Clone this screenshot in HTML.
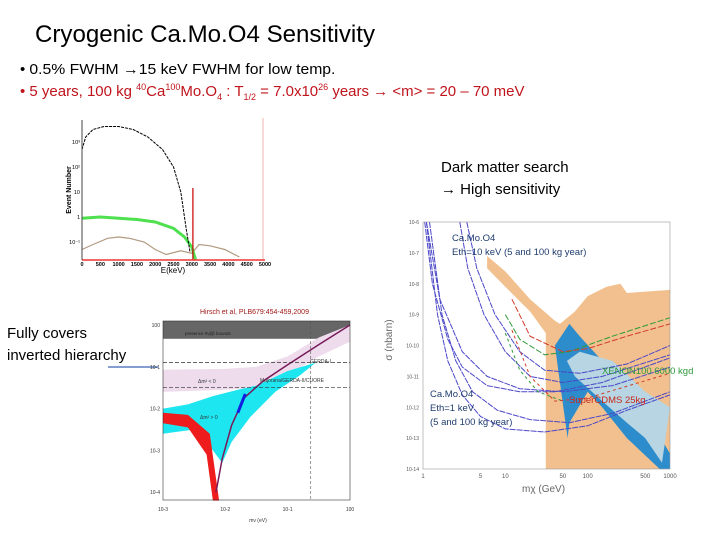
<!DOCTYPE html>
<html><head><meta charset="utf-8"><style>html,body{margin:0;padding:0;background:#fff}svg{display:block}text{font-family:"Liberation Sans",sans-serif}</style></head>
<body>
<svg id="s" width="720" height="540" viewBox="0 0 720 540" xmlns="http://www.w3.org/2000/svg">
<text x="35" y="42" font-size="24" textLength="340" lengthAdjust="spacingAndGlyphs" fill="#000">Cryogenic Ca.Mo.O4 Sensitivity</text>
<text x="20" y="74" font-size="15" fill="#000">• <tspan textLength="306" lengthAdjust="spacingAndGlyphs">0.5% FWHM  →15 keV FWHM for low temp.</tspan></text>
<text x="20" y="96" font-size="15" fill="#c0141c">• 5 years, 100 kg <tspan font-size="9" dy="-6">40</tspan><tspan dy="6">Ca</tspan><tspan font-size="9" dy="-6">100</tspan><tspan dy="6">Mo.O</tspan><tspan font-size="9" dy="4">4</tspan><tspan dy="-4"> : T</tspan><tspan font-size="9" dy="4">1/2</tspan><tspan dy="-4"> = 7.0x10</tspan><tspan font-size="9" dy="-6">26</tspan><tspan dy="6"> years → &lt;m&gt; = 20 – 70 meV</tspan></text>
<text x="441" y="172" font-size="15">Dark matter search</text>
<text x="441" y="194" font-size="15">→ High sensitivity</text>
<text x="7" y="338" font-size="15">Fully covers</text>
<text x="7" y="360" font-size="15">inverted hierarchy</text>
<line x1="108" y1="367" x2="158" y2="367" stroke="#5b7fc0" stroke-width="1.5"/>
<g id="p1"></g>
<g id="p2"></g>
<g id="p3"></g>
</svg>
<script>
// Spectrum chart data (E keV, log10 counts)
const specE=[0,100,300,600,1000,1400,1800,2200,2500,2700,2850,2950];
const specBB=[2.7,3.2,3.5,3.62,3.62,3.5,3.2,2.7,2.0,1.0,-0.5,-1.4];
const greenE=[0,500,1000,1500,2000,2500,2800,3000,3100];
const greenV=[-0.05,0,-0.05,-0.1,-0.2,-0.45,-0.8,-1.2,-1.7];
const brownE=[0,300,700,1000,1300,1700,2000,2300,2700,3000,3200,3500,3900,4300];
const brownV=[-1.3,-1.1,-0.85,-0.8,-0.85,-1.0,-1.3,-1.5,-1.35,-1.45,-1.1,-1.15,-1.3,-1.6];
const specTicks=[0,500,1000,1500,2000,2500,3000,3500,4000,4500,5000];
// DM chart data (GeV, log10 sigma nbarn)
const dmCurves=[
 [[1.1,-6],[1.5,-9],[2,-10.5],[3,-11.6],[5,-12.3],[10,-12.7],[30,-12.8],[100,-12.6],[300,-12.1],[1000,-11.6]],
 [[1.2,-6],[1.7,-9],[2.5,-10.5],[4,-11.5],[8,-12.1],[20,-12.4],[60,-12.5],[200,-12.2],[1000,-11.5]],
 [[1.05,-6],[1.3,-8],[2,-9.8],[3,-10.7],[6,-11.3],[15,-11.5],[40,-11.5],[150,-11.2],[1000,-10.4]],
 [[1.1,-6],[1.6,-8.5],[3,-10.2],[6,-11],[15,-11.4],[50,-11.5],[200,-11.3],[1000,-10.7]],
 [[2.8,-6],[3.5,-7.5],[5.5,-9],[10,-10.2],[20,-11],[50,-11.2],[150,-11],[1000,-10.3]],
 [[3.4,-6],[4.5,-7.5],[7.5,-9],[15,-10.2],[30,-10.8],[80,-10.9],[300,-10.6],[1000,-10.0]]];
const dmGreen=[[10,-9],[15,-9.8],[30,-10.3],[60,-10.2],[200,-9.7],[1000,-9.1]];
const dmRed=[[12,-8.5],[20,-9.7],[50,-10.2],[100,-10.1],[300,-9.7],[1000,-9.3]];
const dmGreen2=[[10,-9.6],[15,-10.8],[25,-11.5],[50,-11.8]];
const dmRed2=[[12,-9.5],[20,-11],[40,-11.8],[100,-11.7],[1000,-10.9]];
const tanReg=[[6,-7.1],[10,-7.6],[20,-8.5],[40,-9.2],[46,-9.3],[70,-8.9],[100,-8.4],[170,-8.1],[250,-8.0],[300,-8.3],[1000,-8.2],[1000,-14],[31,-14],[31,-9.6],[20,-8.9],[10,-8.1],[6,-7.5]];
const blueReg=[[40,-10],[60,-9.3],[80,-9.7],[150,-10.5],[300,-11.5],[600,-12.5],[1000,-13.5],[1000,-14],[750,-14],[300,-13],[150,-12],[100,-11.5],[60,-12.5],[57,-13],[45,-11]];
const lightReg=[[56,-10.5],[80,-10.2],[200,-10.5],[500,-11.5],[1000,-12],[800,-13.8],[500,-13],[300,-12.5],[150,-11.8],[70,-11]];
const dmXTicks=[1,5,10,50,100,500,1000];
const dmYTicks=[-6,-7,-8,-9,-10,-11,-12,-13,-14];
// neutrino chart data (log10 m eV, log10 mbb eV)
const pinkReg=[[-3,-1.07],[-2,-1.05],[-1.5,-1.0],[-1,-0.75],[-0.5,-0.3],[0,0],[0,-0.4],[-0.5,-0.75],[-1,-1.2],[-1.5,-1.5],[-2,-1.55],[-3,-1.6]];
const cyanReg=[[-3,-2.0],[-2.6,-1.9],[-2.2,-1.7],[-1.8,-1.55],[-1.5,-1.45],[-1,-1.1],[-0.55,-0.9],[-0.8,-1.2],[-1.2,-1.6],[-1.6,-2.2],[-1.9,-2.8],[-2.05,-3.3],[-2.2,-3.0],[-2.5,-2.5],[-3,-2.6]];
const redReg=[[-3,-2.1],[-2.6,-2.15],[-2.25,-2.6],[-2.1,-4.2],[-2.2,-4.2],[-2.3,-3.1],[-2.6,-2.45],[-3,-2.35]];
const nuLine=[[-2.15,-4],[-2.05,-3.2],[-1.9,-2.4],[-1.7,-1.75],[-1.4,-1.35],[-1,-0.95],[-0.5,-0.47],[0,0]];
const nuXTicks=[-3,-2,-1,0];const nuYTicks=[0,-1,-2,-3,-4];
const NS='http://www.w3.org/2000/svg';
function mk(p,t,a){const e=document.createElementNS(NS,t);for(const k in a)e.setAttribute(k,a[k]);p.appendChild(e);return e;}
function path(pts,fx,fy,close){return pts.map((p,i)=>(i?'L':'M')+fx(p[0]).toFixed(1)+' '+fy(p[1]).toFixed(1)).join('')+(close?'Z':'');}
// ---- plot 1
const g1=document.getElementById('p1');
const x1=v=>82+v/5000*183, y1=v=>Math.min(260,217-v*25);
let e;
e=mk(g1,'path',{d:path(brownE.map((x,i)=>[x,brownV[i]]),x1,y1),fill:'none',stroke:'#b29a80','stroke-width':1.2});


e=mk(g1,'path',{d:path(greenE.map((x,i)=>[x,greenV[i]]),x1,y1),fill:'none',stroke:'#4ee04e','stroke-width':3});


e=mk(g1,'path',{d:path(specE.map((x,i)=>[x,specBB[i]]),x1,y1),fill:'none',stroke:'#000','stroke-width':1,'stroke-dasharray':'3 1'});


e=mk(g1,'line',{x1:x1(3030),x2:x1(3030),y1:188,y2:260,stroke:'#c00','stroke-width':1.2});


mk(g1,'line',{x1:263,x2:263,y1:118,y2:260,stroke:'#f3b0b0','stroke-width':1});
mk(g1,'line',{x1:82,x2:265,y1:260,y2:260,stroke:'#e33','stroke-width':1.5});
mk(g1,'line',{x1:82,x2:82,y1:120,y2:260,stroke:'#444','stroke-width':1});
specTicks.forEach(t=>{e=mk(g1,'text',{x:x1(t),y:266,'font-size':5.5,'text-anchor':'middle','font-weight':'bold'});e.textContent=t;

});
e=mk(g1,'text',{x:173,y:273,'font-size':8,'text-anchor':'middle'});e.textContent='E(keV)';
e=mk(g1,'text',{x:71,y:190,'font-size':7,'font-weight':'bold',transform:'rotate(-90 71 190)','text-anchor':'middle'});e.textContent='Event Number';
[[3,'10³'],[2,'10²'],[1,'10'],[0,'1'],[-1,'10⁻¹']].forEach(t=>{e=mk(g1,'text',{x:80,y:y1(t[0])+2,'font-size':5.5,'text-anchor':'end'});e.textContent=t[1];});
// ---- plot 2
const g2=document.getElementById('p2');
const x2=m=>423+Math.log10(m)/3*247, y2=v=>222+(-6-v)/8*247;
e=mk(g2,'path',{d:path(tanReg,x2,y2,1),fill:'#f1c08e'});


e=mk(g2,'path',{d:path(blueReg,x2,y2,1),fill:'#2d8ccc'});


e=mk(g2,'path',{d:path(lightReg,x2,y2,1),fill:'#b7d5e2'});


dmCurves.forEach(c=>{e=mk(g2,'path',{d:path(c,x2,y2),fill:'none',stroke:'#4b47c8','stroke-width':1,'stroke-dasharray':'6 1'});

});
[[dmGreen,'#2e9a3a','6 2'],[dmRed,'#d23a2a','6 2'],[dmGreen2,'#2e9a3a','3 3'],[dmRed2,'#d23a2a','3 3']].forEach(c=>{e=mk(g2,'path',{d:path(c[0],x2,y2),fill:'none',stroke:c[1],'stroke-width':1,'stroke-dasharray':c[2]});

});
mk(g2,'rect',{x:423,y:222,width:247,height:247,fill:'none',stroke:'#999','stroke-width':0.6});
dmXTicks.forEach(t=>{e=mk(g2,'text',{x:x2(t),y:478,'font-size':6,'text-anchor':'middle',fill:'#555'});e.textContent=t;});
dmYTicks.forEach(t=>{e=mk(g2,'text',{x:419,y:y2(t)+2,'font-size':5,'text-anchor':'end',fill:'#555'});e.textContent='10'+t;});
e=mk(g2,'text',{x:522,y:492,'font-size':10,fill:'#666'});e.textContent='mχ (GeV)';
e=mk(g2,'text',{x:392,y:340,'font-size':10,fill:'#666',transform:'rotate(-90 392 340)','text-anchor':'middle'});e.textContent='σ (nbarn)';
[[452,241,'Ca.Mo.O4'],[452,255,'Eth=10 keV (5 and 100 kg year)'],[430,397,'Ca.Mo.O4'],[430,411,'Eth=1 keV'],[430,425,'(5 and 100 kg year)']].forEach(t=>{e=mk(g2,'text',{x:t[0],y:t[1],'font-size':9.5,fill:'#1f3c6e'});e.textContent=t[2];});
e=mk(g2,'text',{x:602,y:374,'font-size':9.5,fill:'#2e9a3a'});e.textContent='XENON100 6000 kgd';
e=mk(g2,'text',{x:569,y:403,'font-size':9.5,fill:'#c8281c'});e.textContent='SuperCDMS 25kg';
// ---- plot 3
const g3=document.getElementById('p3');
const x3=v=>163+(v+3)/3*187, y3=v=>325-v*41.8;
mk(g3,'rect',{x:163,y:321,width:187,height:y3(-0.33)-321,fill:'#666'});
e=mk(g3,'path',{d:path(pinkReg,x3,y3,1),fill:'#eedcec'});


e=mk(g3,'path',{d:path(cyanReg,x3,y3,1),fill:'#1ee6f0'});


e=mk(g3,'path',{d:path(redReg,x3,y3,1),fill:'#ee1c1c'});


e=mk(g3,'path',{d:path(nuLine,x3,y3),fill:'none',stroke:'#7a1a5a','stroke-width':1.5});


mk(g3,'line',{x1:x3(-1.68),y1:y3(-1.65),x2:x3(-1.8),y2:y3(-2.1),stroke:'#1020e0','stroke-width':3});
[-0.9,-1.5].forEach(t=>{mk(g3,'line',{x1:163,x2:350,y1:y3(t),y2:y3(t),stroke:'#333','stroke-width':0.7,'stroke-dasharray':'4 2'});});
mk(g3,'line',{x1:x3(-0.63),x2:x3(-0.63),y1:321,y2:500,stroke:'#555','stroke-width':0.6,'stroke-dasharray':'3 2'});
mk(g3,'rect',{x:163,y:321,width:187,height:179,fill:'none',stroke:'#333','stroke-width':0.6});
e=mk(g3,'text',{x:185,y:335,'font-size':4.5,fill:'#222'});e.textContent='presence 0νββ bounds';
e=mk(g3,'text',{x:310,y:363,'font-size':5,fill:'#333'});e.textContent='GERDA-I';
e=mk(g3,'text',{x:260,y:382,'font-size':5,fill:'#333'});e.textContent='Majorana/GERDA-II/CUORE';
e=mk(g3,'text',{x:198,y:383,'font-size':5,fill:'#333'});e.textContent='Δm² < 0';
e=mk(g3,'text',{x:200,y:419,'font-size':5,fill:'#333'});e.textContent='Δm² > 0';
nuXTicks.forEach(t=>{e=mk(g3,'text',{x:x3(t),y:511,'font-size':5,'text-anchor':'middle',fill:'#333'});e.textContent='10'+t;});
nuYTicks.forEach(t=>{e=mk(g3,'text',{x:160,y:y3(t)+2,'font-size':5,'text-anchor':'end',fill:'#333'});e.textContent='10'+t;});
e=mk(g3,'text',{x:258,y:522,'font-size':5,fill:'#333','text-anchor':'middle'});e.textContent='mν (eV)';
e=mk(g3,'text',{x:200,y:314,'font-size':7,fill:'#a01818'});e.textContent='Hirsch et al, PLB679:454-459,2009';
</script>
</body></html>
